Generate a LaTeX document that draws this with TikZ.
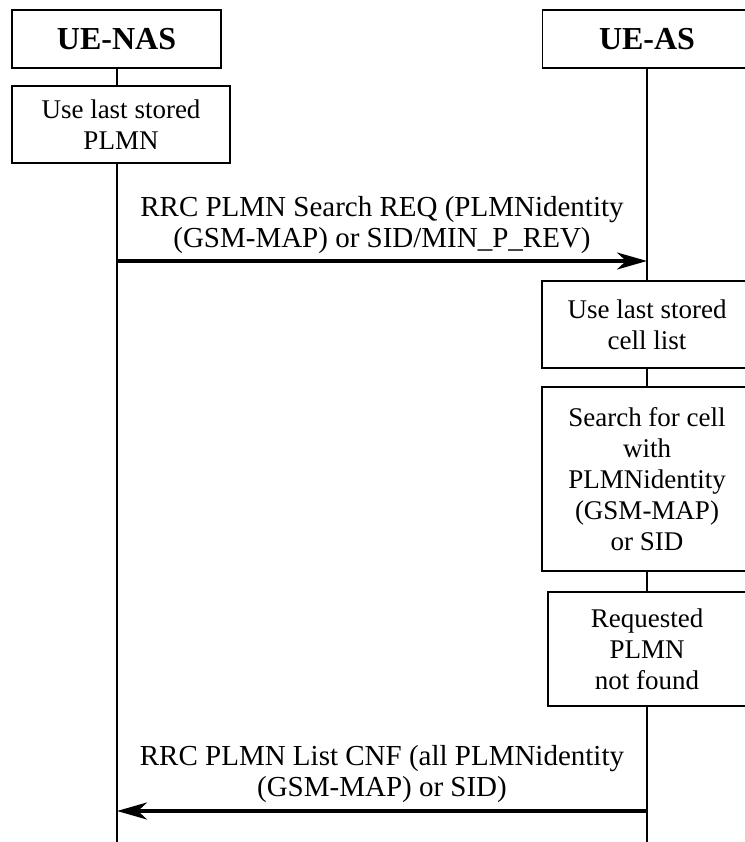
\documentclass[tikz,border=0pt]{standalone}
\usepackage{fontspec}
\setmainfont{Liberation Serif}
\usepackage{tikz}
\usetikzlibrary{arrows.meta,positioning,backgrounds}

\begin{document}
\begin{tikzpicture}[
    x=1pt, y=-1pt,
    head/.style={rectangle, draw, line width=1.4pt, fill=white, minimum width=209pt,
                 minimum height=58pt, align=center, font=\fontsize{32}{36}\selectfont\bfseries},
    box/.style={rectangle, draw, line width=1.4pt, fill=white, align=center, inner sep=0pt,
                font=\fontsize{27}{31}\selectfont},
    msg/.style={-{Stealth[length=30pt,width=17pt,inset=9pt]}, line width=3.2pt},
    lifeline/.style={line width=1.4pt},
    msglabel/.style={align=center, font=\fontsize{29}{31}\selectfont, inner sep=4pt}
]
\useasboundingbox (0,0) rectangle (744,842);

% entities
\node[head] (nas) at (116.5,39) {UE-NAS};
\node[head] (as) at (647,39) {UE-AS};

% actions
\node[box, minimum width=218pt, minimum height=77pt] (laststored) at (121,124.5) {Use last stored\\PLMN};
\node[box, minimum width=210pt, minimum height=87pt] (celllist) at (647,324.5) {Use last stored\\cell list};
\node[box, minimum width=210pt, minimum height=184pt] (search) at (647,479) {Search for cell\\with\\PLMNidentity\\(GSM-MAP)\\or SID};
\node[box, minimum width=198pt, minimum height=114pt] (notfound) at (647,649) {Requested\\PLMN\\not found};

% lifelines
\coordinate (nasend) at (117,842);
\coordinate (asend) at (647,842);
\begin{scope}[on background layer]
\draw[lifeline] (nas.south -| nasend) -- (nasend);
\draw[lifeline] (as.south) -- (asend);
\end{scope}

% messages
\coordinate (req0) at (117,261);
\coordinate (req1) at (647,261);
\coordinate (cnf0) at (647,811);
\coordinate (cnf1) at (117,811);
\draw[msg] (req0) -- node[msglabel, above=2pt] {RRC PLMN Search REQ (PLMNidentity\\(GSM-MAP) or SID/MIN\_P\_REV)} (req1);
\draw[msg] (cnf0) -- node[msglabel, above=3pt] {RRC PLMN List CNF (all PLMNidentity\\(GSM-MAP) or SID)} (cnf1);
\end{tikzpicture}
\end{document}
